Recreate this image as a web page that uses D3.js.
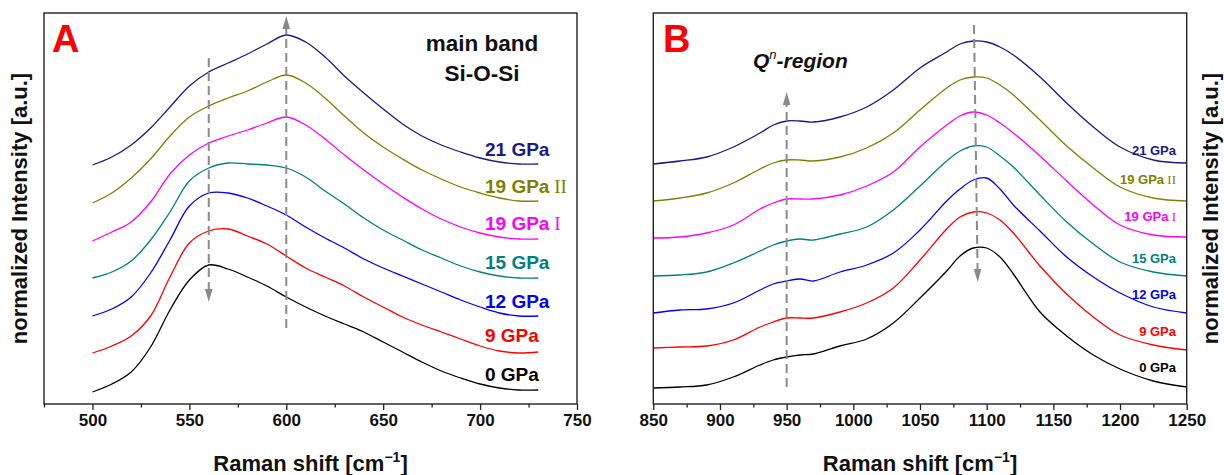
<!DOCTYPE html>
<html>
<head>
<meta charset="utf-8">
<script src="https://cdn.jsdelivr.net/npm/d3@7"></script>
<style>
  html, body { margin: 0; padding: 0; background: #fff; }
  svg { display: block; font-family: "Liberation Sans", Arial, sans-serif; }
</style>
</head>
<body>
<svg id="chart" width="1224" height="475"></svg>
<script>
// Raman spectra under pressure, two panels (main band / Qn region), curves stacked with offsets.
// y values are stacked normalized intensity (arbitrary units, 0 = bottom of frame).

const seriesLabels = ["0 GPa", "9 GPa", "12 GPa", "15 GPa", "19 GPa", "19 GPa", "21 GPa"];
const seriesRoman  = ["", "", "", "", "I", "II", ""];
const seriesColors = ["#000000", "#ff0000", "#0000ff", "#008080", "#ff00ff", "#808000", "#1a1a8a"];

// panel A : 500 - 730 cm-1
const xA = [500, 510, 520, 530, 540, 550, 560, 570, 580, 590, 600, 610,
            620, 630, 640, 650, 660, 670, 680, 690, 700, 710, 720, 730];
const a0   = [12, 20, 32, 57, 94, 124, 139, 135, 127, 118, 107, 97, 88, 80, 72, 62, 52, 42, 33, 26, 20, 16, 14, 14];
const a9   = [51, 58, 68, 88, 127, 161, 173, 175, 168, 160, 148, 136, 127, 118, 107, 97, 87, 79, 72, 65, 58, 53, 51, 52];
const a12  = [88, 95, 107, 131, 164, 198, 211, 211, 206, 198, 189, 177, 166, 156, 145, 136, 128, 120, 112, 104, 97, 91, 88, 88];
const a15  = [126, 132, 143, 164, 192, 223, 236, 241, 240, 239, 236, 227, 213, 200, 186, 174, 164, 154, 146, 138, 132, 128, 126, 126];
const a19i = [163, 172, 182, 202, 230, 249, 261, 268, 274, 281, 287, 279, 265, 249, 234, 220, 207, 195, 185, 177, 171, 167, 165, 165];
const a19ii= [201, 211, 226, 245, 268, 287, 298, 306, 313, 322, 329, 321, 306, 288, 271, 257, 245, 234, 225, 217, 211, 206, 203, 203];
const a21  = [239, 247, 259, 276, 297, 318, 332, 341, 350, 360, 369, 362, 347, 328, 311, 295, 280, 268, 259, 252, 246, 242, 240, 240];

// panel B : 850 - 1250 cm-1
const xB = [850, 870, 890, 910, 930, 940, 950, 960, 970, 990, 1010, 1030, 1050,
            1070, 1080, 1090, 1100, 1110, 1120, 1140, 1160, 1180, 1200, 1225, 1250];
const b0   = [16, 17, 19, 27, 39, 44, 47, 49, 50, 58, 65, 81, 106, 133, 148, 156, 156, 147, 130, 92, 68, 49, 35, 23, 17];
const b9   = [56, 57, 58, 64, 77, 82, 86, 86, 86, 92, 101, 116, 144, 175, 187, 192, 191, 184, 171, 138, 110, 87, 69, 59, 54];
const b12  = [91, 94, 95, 101, 114, 120, 123, 125, 123, 132, 139, 151, 174, 203, 215, 224, 226, 215, 199, 173, 147, 127, 111, 97, 91];
const b15  = [128, 129, 132, 141, 153, 159, 163, 165, 164, 170, 177, 194, 218, 243, 253, 258, 257, 248, 237, 209, 182, 160, 142, 132, 128];
const b19i = [166, 167, 171, 179, 195, 201, 205, 205, 205, 209, 218, 232, 257, 279, 288, 292, 289, 281, 271, 248, 223, 199, 179, 169, 167];
const b19ii= [203, 206, 211, 221, 235, 241, 244, 244, 243, 247, 256, 271, 294, 316, 324, 327, 326, 319, 309, 284, 258, 236, 217, 206, 203];
const b21  = [240, 243, 247, 257, 271, 279, 283, 283, 282, 287, 297, 314, 336, 352, 360, 363, 362, 357, 349, 327, 301, 277, 257, 244, 241];

// ticks
const ticksA = [500, 550, 600, 650, 700, 750];
const minorA = [475, 525, 575, 625, 675, 725];
const ticksB = [850, 900, 950, 1000, 1050, 1100, 1150, 1200, 1250];
const minorB = [875, 925, 975, 1025, 1075, 1125, 1175, 1225];

// dashed guide arrows [x-start, y-start, x-tip, y-tip]
const arrowsA = [[560, 346, 560, 102], [600, 76, 600, 388]];
const arrowsB = [[950, 17, 950, 312], [1090.5, 379, 1093.3, 122]];

const svg = d3.select("#chart");
const frameTop = 13, frameBottom = 404;
const y = d3.scaleLinear().domain([0, 391]).range([frameBottom, frameTop]);

function panel(opts) {
  const x = d3.scaleLinear().domain(opts.domain).range(opts.range);
  const g = svg.append("g");

  // axis
  const ax = g.append("g").attr("transform", `translate(0,${frameBottom})`)
    .call(d3.axisBottom(x).tickValues(opts.ticks).tickSize(6).tickPadding(4).tickFormat(d3.format("d")));
  ax.select(".domain").remove();
  ax.selectAll(".tick line").attr("stroke", "#222").attr("stroke-width", 1.3);
  ax.selectAll("text").attr("font-size", 17).attr("font-weight", "bold").attr("fill", "#111")
    .attr("font-family", "Liberation Sans, Arial, sans-serif");
  const mn = g.append("g").attr("transform", `translate(0,${frameBottom})`)
    .call(d3.axisBottom(x).tickValues(opts.minor).tickSize(3.5).tickFormat(""));
  mn.select(".domain").remove();
  mn.selectAll(".tick line").attr("stroke", "#222").attr("stroke-width", 1.3);

  // curves
  const line = d3.line().x((d, i) => x(opts.xs[i])).y(d => y(d)).curve(d3.curveCatmullRom.alpha(0.5));
  opts.series.forEach((s, i) => {
    g.append("path").attr("d", line(s)).attr("fill", "none")
      .attr("stroke", seriesColors[i]).attr("stroke-width", 1.3);
  });

  // labels
  opts.series.forEach((s, i) => {
    const t = g.append("text")
      .attr("x", opts.labelX)
      .attr("y", y(s[s.length - 1]) - opts.labelLift[i])
      .attr("dy", "0.35em")
      .attr("text-anchor", opts.labelAnchor)
      .attr("font-size", opts.labelSize).attr("font-weight", "bold")
      .attr("fill", seriesColors[i]);
    t.append("tspan").text(seriesLabels[i]);
    if (seriesRoman[i]) {
      t.append("tspan").text("\u00a0" + seriesRoman[i])
        .attr("font-family", "Liberation Serif, Times New Roman, serif").attr("font-weight", "normal");
    }
  });

  // dashed arrows
  opts.arrows.forEach(a => {
    const x1 = x(a[0]), y1 = y(a[1]), x2 = x(a[2]), y2 = y(a[3]);
    const len = Math.hypot(x2 - x1, y2 - y1), ux = (x2 - x1) / len, uy = (y2 - y1) / len;
    const head = 13, half = 3.8;
    g.append("line").attr("x1", x1).attr("y1", y1)
      .attr("x2", x2 - ux * head).attr("y2", y2 - uy * head)
      .attr("stroke", "#8a8a8a").attr("stroke-width", 2).attr("stroke-dasharray", "9,5");
    const bx = x2 - ux * head, by = y2 - uy * head;
    g.append("path")
      .attr("d", `M${x2},${y2}L${bx - uy * half},${by + ux * half}L${bx + uy * half},${by - ux * half}Z`)
      .attr("fill", "#8a8a8a");
  });

  // frame
  g.append("rect").attr("x", opts.range[0]).attr("y", frameTop)
    .attr("width", opts.range[1] - opts.range[0]).attr("height", frameBottom - frameTop)
    .attr("fill", "none").attr("stroke", "#222").attr("stroke-width", 1.4);

  // panel letter
  g.append("text").attr("x", opts.letterX).attr("y", 51.5)
    .attr("font-size", 38).attr("font-weight", "bold").attr("fill", "#ff0000").text(opts.letter);

  // x title
  const cx = (opts.range[0] + opts.range[1]) / 2;
  const xt = g.append("text").attr("x", cx).attr("y", 471).attr("text-anchor", "middle")
    .attr("font-size", 22).attr("font-weight", "bold").attr("fill", "#111");
  xt.append("tspan").text("Raman shift [cm");
  xt.append("tspan").text("\u22121").attr("font-size", 14).attr("dy", -9);
  xt.append("tspan").text("]").attr("dy", 9);

  // y title
  g.append("text")
    .attr("transform", `translate(${opts.yTitleX},${(frameTop + frameBottom) / 2}) rotate(-90)`)
    .attr("text-anchor", "middle").attr("font-size", 22).attr("font-weight", "bold").attr("fill", "#111")
    .text("normalized Intensity [a.u.]");

  return { g, x };
}

const A = panel({
  domain: [475, 750], range: [44, 577], xs: xA,
  series: [a0, a9, a12, a15, a19i, a19ii, a21],
  ticks: ticksA, minor: minorA, arrows: arrowsA,
  labelX: 485, labelAnchor: "start", labelSize: 19, labelLift: [16, 17, 15, 16, 16, 15, 15],
  letter: "A", letterX: 52, yTitleX: 27
});
A.g.append("text").attr("x", 482).attr("y", 51).attr("text-anchor", "middle")
  .attr("font-size", 22.5).attr("font-weight", "bold").attr("fill", "#111").text("main band");
A.g.append("text").attr("x", 482).attr("y", 81).attr("text-anchor", "middle")
  .attr("font-size", 22.5).attr("font-weight", "bold").attr("fill", "#111").text("Si-O-Si");

const B = panel({
  domain: [850, 1250], range: [653.3, 1186.7], xs: xB,
  series: [b0, b9, b12, b15, b19i, b19ii, b21],
  ticks: ticksB, minor: minorB, arrows: arrowsB,
  labelX: 1176, labelAnchor: "end", labelSize: 13, labelLift: [20, 19, 19, 18, 21, 22, 13],
  letter: "B", letterX: 663, yTitleX: 1218
});
const q = B.g.append("text").attr("x", 753).attr("y", 67.5)
  .attr("font-size", 21).attr("font-weight", "bold").attr("font-style", "italic").attr("fill", "#111");
q.append("tspan").text("Q");
q.append("tspan").text("n").attr("font-size", 13).attr("dy", -9).attr("font-weight", "normal");
q.append("tspan").text("-region").attr("dy", 9);
</script>
</body>
</html>
